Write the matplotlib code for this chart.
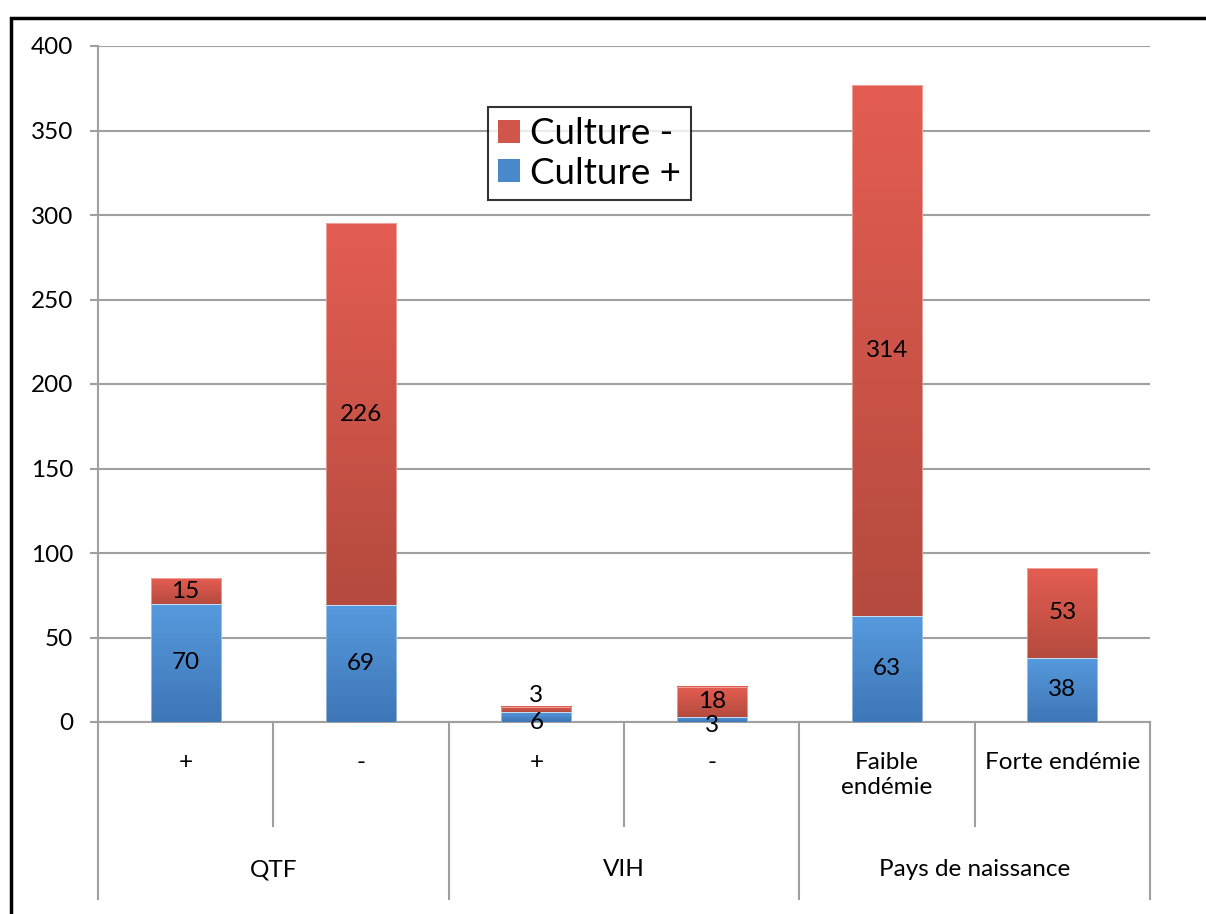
import numpy as np
import matplotlib
matplotlib.use("Agg")
import matplotlib.pyplot as plt
from matplotlib.colors import LinearSegmentedColormap
from matplotlib.patches import Rectangle, Patch
from matplotlib.lines import Line2D

plt.rcParams['font.family'] = ['Lato', 'DejaVu Sans']

# Data
sub_labels = ["+", "-", "+", "-", "Faible\nendémie", "Forte endémie"]
groups = ["QTF", "VIH", "Pays de naissance"]
group_sizes = [2, 2, 2]
culture_pos = [70, 69, 6, 3, 63, 38]
culture_neg = [15, 226, 3, 18, 314, 53]
series_names = ["Culture -", "Culture +"]

W, H = 1206, 914
fig = plt.figure(figsize=(W / 100, H / 100), dpi=100)
ax = fig.add_axes([98 / W, 1 - 722 / H, (1150 - 98) / W, (722 - 46) / H])

FS = 17.5
grid_c = "#a0a0a0"
red_top, red_bot = "#e45d52", "#b54a3e"
blue_top, blue_bot = "#569ade", "#3e76b6"
bar_w = 0.4

def grad_bar(x, bottom, height, top_c, bot_c):
    cmap = LinearSegmentedColormap.from_list("g", [bot_c, top_c])
    grad = np.linspace(0, 1, 256).reshape(-1, 1)
    ax.imshow(grad, extent=(x - bar_w / 2, x + bar_w / 2, bottom, bottom + height),
              origin="lower", aspect="auto", cmap=cmap, zorder=3, interpolation="bilinear")
    ax.add_patch(Rectangle((x - bar_w / 2, bottom), bar_w, height, fill=False,
                           edgecolor="#ffffff", lw=0.6, alpha=0.5, zorder=4))

xs = np.arange(len(sub_labels))
for i, x in enumerate(xs):
    p, n = culture_pos[i], culture_neg[i]
    grad_bar(x, 0, p, blue_top, blue_bot)
    grad_bar(x, p, n, red_top, red_bot)
    off_p = -4 if p < 10 else 0
    ax.annotate(str(p), (x, p / 2), xytext=(0, off_p), textcoords="offset points",
                ha="center", va="center", fontsize=FS, zorder=5)
    off_n = 10 if n < 5 else 0
    ax.annotate(str(n), (x, p + n / 2), xytext=(0, off_n), textcoords="offset points",
                ha="center", va="center", fontsize=FS, zorder=5)

ax.set_xlim(-0.5, len(sub_labels) - 0.5)
ax.set_ylim(0, 400)
ax.set_yticks(np.arange(0, 401, 50))
ax.yaxis.grid(True, color=grid_c, lw=1.5)
ax.set_axisbelow(True)
ax.set_xticks([])
for s in ["top", "right"]:
    ax.spines[s].set_visible(False)
for s in ["left", "bottom"]:
    ax.spines[s].set_color(grid_c)
    ax.spines[s].set_linewidth(1.5)
ax.tick_params(axis="y", length=6, width=1.5, color=grid_c, pad=12, labelsize=FS)

# Category table below the axis
tr = ax.get_xaxis_transform()
y_sub = (722 - 826) / 676
y_grp = (722 - 899) / 676
edges = np.arange(len(sub_labels) + 1) - 0.5
group_edges = np.concatenate([[0], np.cumsum(group_sizes)]) - 0.5
for e in edges:
    yb = y_grp if np.any(np.isclose(e, group_edges)) else y_sub
    ax.add_line(Line2D([e, e], [0, yb], transform=tr, color=grid_c, lw=1.5, clip_on=False))
for i, lab in enumerate(sub_labels):
    ax.text(xs[i], (722 - 752) / 676, lab, transform=tr, ha="center", va="top",
            fontsize=FS, linespacing=1.25)
for g, lab in enumerate(groups):
    c = (group_edges[g] + group_edges[g + 1]) / 2
    ax.text(c, (722 - 870) / 676, lab, transform=tr, ha="center", va="center", fontsize=FS)

# Legend
handles = [Patch(facecolor="#d0554a", edgecolor="none"),
           Patch(facecolor="#4a88cc", edgecolor="none")]
leg = fig.legend(handles, series_names, loc="upper left",
                 bbox_to_anchor=(488 / W, 1 - 107 / H), fontsize=26.5,
                 frameon=True, fancybox=False, handlelength=0.6, handleheight=0.6,
                 handletextpad=0.25, borderpad=0.28, labelspacing=0.17, borderaxespad=0)
leg.get_frame().set_edgecolor("black")
leg.get_frame().set_linewidth(1.5)

# Outer frame
fig.add_artist(Rectangle((10.5 / W, -0.1), 1.2, 1 - 17.5 / H + 0.1, transform=fig.transFigure,
                         fill=False, edgecolor="black", lw=2.5))

fig.savefig("out.png", dpi=100)
